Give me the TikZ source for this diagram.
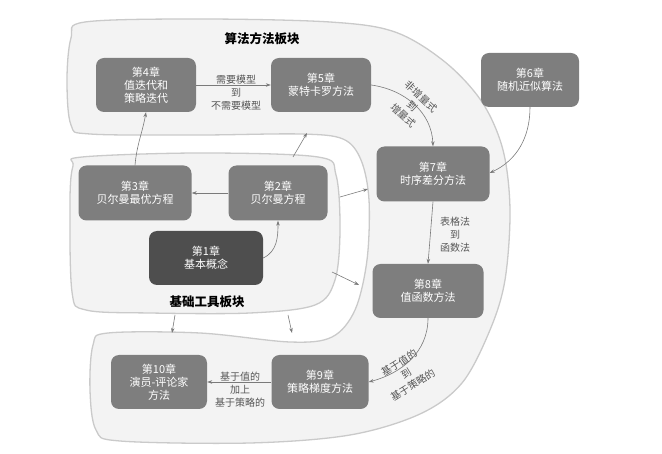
\documentclass[tikz,border=0pt]{standalone}
\usepackage{fontspec}
\setmainfont{Noto Sans CJK SC}
\usetikzlibrary{arrows.meta}
\definecolor{boxgray}{HTML}{7E7E7E}
\definecolor{darkbox}{HTML}{4E4E4E}
\definecolor{blobfill}{HTML}{F3F3F3}
\definecolor{blobline}{HTML}{CACACA}
\definecolor{arrowgray}{HTML}{7A7A7A}
\definecolor{labelgray}{HTML}{555555}
\tikzset{
  chap/.style={draw=none, fill=boxgray, rounded corners=8pt, text=white,
    minimum width=100pt, minimum height=54pt, align=center,
    font=\fontsize{11}{13}\selectfont, inner sep=2pt},
  chapdark/.style={chap, fill=darkbox},
  conn/.style={draw=arrowgray, line width=0.6pt, -{Stealth[length=5pt,width=3.5pt]}},
  elabel/.style={text=labelgray, align=center, font=\fontsize{10}{13}\selectfont, inner sep=1pt},
  blob/.style={fill=blobfill, draw=blobline, line width=1.3pt},
  region/.style={text=black, font=\fontsize{12.5}{14}\selectfont\bfseries}
}
\begin{document}
\begin{tikzpicture}[x=1pt,y=-1pt]
\useasboundingbox (0,0) rectangle (662,454);
% big C-shaped region
\draw[blob] plot[smooth cycle, tension=0.55] coordinates {
 (85,22) (200,19) (330,22) (395,32) (445,62) (482,102) (503,150) (510,210)
 (505,280) (490,330) (462,383) (420,414) (350,435) (250,443) (120,441)
 (96,430) (90,390) (93,345) (108,333) (200,333) (290,342) (332,337)
 (355,310) (367,260) (369,200) (361,160) (343,139) (300,134) (200,135)
 (90,134) (71,125) (67,80) (71,38)};
% basic tools region
\draw[blob] plot[smooth cycle, tension=0.55] coordinates {
 (82,157) (200,153) (318,157) (336,175) (340,230) (335,280) (315,305)
 (250,313) (150,313) (86,310) (72,292) (70,200) (73,166)};
\node[region] (rtop) at (262,39) {算法方法板块};
\node[region] (rbase) at (207,302) {基础工具板块};
% chapters
\node[chap] (c4) at (146,85) {第4章\\值迭代和\\策略迭代};
\node[chap] (c5) at (321,85) {第5章\\蒙特卡罗方法};
\node[chap, minimum width=98pt] (c6) at (530,80) {第6章\\随机近似算法};
\node[chap, minimum width=113pt, minimum height=55pt] (c7) at (433,174) {第7章\\时序差分方法};
\node[chap, minimum width=111pt] (c8) at (428,291) {第8章\\值函数方法};
\node[chap, minimum width=113pt, minimum height=55pt] (c3) at (135,193) {第3章\\贝尔曼最优方程};
\node[chap, minimum width=99pt, minimum height=55pt] (c2) at (278,193) {第2章\\贝尔曼方程};
\node[chapdark, minimum width=114pt] (c1) at (206,258) {第1章\\基本概念};
\node[chap, minimum width=96pt] (c10) at (159,382) {第10章\\演员-评论家\\方法};
\node[chap, minimum width=97pt] (c9) at (320,382) {第9章\\策略梯度方法};
% chapter connectors
\draw[conn] (c4.east) -- (c5.west);
\node[elabel] (l45) at (236,93) {需要模型\\到\\不需要模型};
\draw[conn] (c5.east) to[out=-8, in=92] (c7.north);
\node[elabel, rotate=-43] (l57) at (412,106) {非增量式\\到\\增量式};
\draw[conn] (c6.south) to[out=-90, in=25] ([yshift=1pt]c7.east);
\draw[conn] (c7.south) -- (c8.north);
\node[elabel] (l78) at (455,235) {表格法\\到\\函数法};
\draw[conn] (c8.south) to[out=-90, in=15] (c9.east);
\node[elabel, rotate=32] (l89) at (406,374) {基于值的\\到\\基于策略的};
\draw[conn] (c9.west) -- (c10.east);
\node[elabel] (l910) at (240,390) {基于值的\\加上\\基于策略的};
\draw[conn] (c1.east) to[out=25, in=-90] (c2.south);
\draw[conn] (c2.west) -- (c3.east);
\draw[conn] (c3.north) to[out=85, in=-100] (c4.south);
% region connectors
\coordinate (a1) at (293,157); \coordinate (b1) at (307,133);
\coordinate (a2) at (340,197); \coordinate (b2) at (368,189);
\coordinate (a3) at (332,272); \coordinate (b3) at (359,285);
\coordinate (a4) at (175,315); \coordinate (b4) at (172,333);
\coordinate (a5) at (288,315); \coordinate (b5) at (292,333);
\draw[conn] (a1) -- (b1);
\draw[conn] (a2) -- (b2);
\draw[conn] (a3) -- (b3);
\draw[conn] (a4) -- (b4);
\draw[conn] (a5) -- (b5);
\end{tikzpicture}
\end{document}
